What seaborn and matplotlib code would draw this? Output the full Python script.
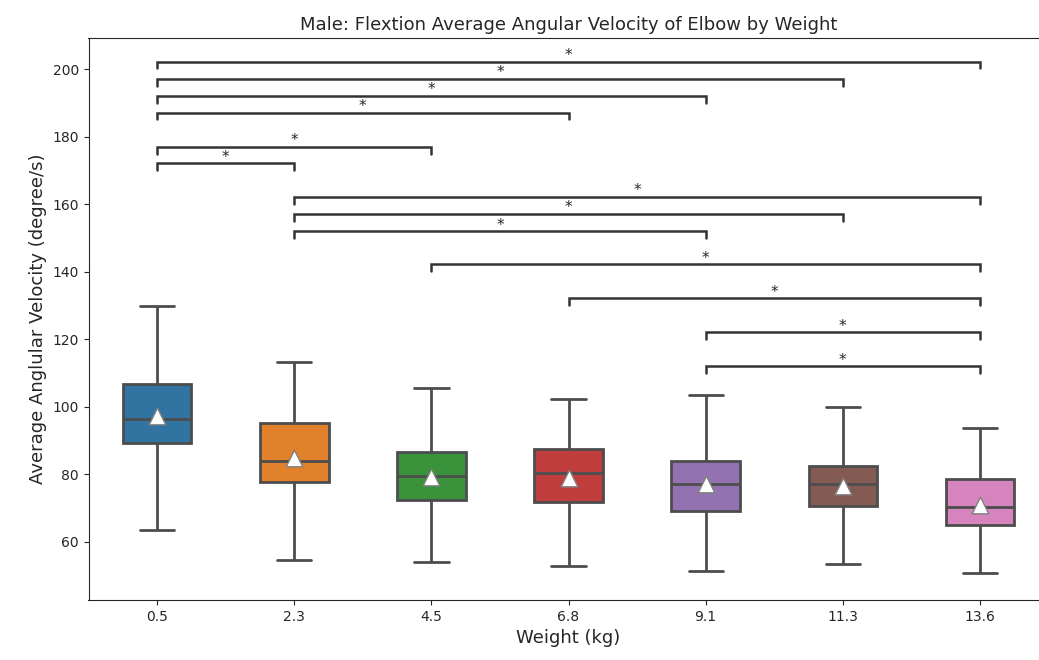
import matplotlib
matplotlib.use("Agg")
import matplotlib.pyplot as plt
import numpy as np
import pandas as pd
import seaborn as sns

# Weight categories (kg)
weights = ["0.5", "2.3", "4.5", "6.8", "9.1", "11.3", "13.6"]

# Box summaries per weight (degree/s)
whisker_low = [63.4, 54.7, 54.0, 53.0, 51.4, 53.6, 50.9]
q1 = [89.2, 77.6, 72.4, 71.7, 69.2, 70.6, 65.1]
median = [96.5, 84.1, 79.5, 80.5, 77.0, 77.0, 70.4]
q3 = [106.9, 95.2, 86.7, 87.6, 84.1, 82.4, 78.6]
whisker_high = [129.9, 113.2, 105.5, 102.4, 103.4, 99.9, 93.7]
means = [97.2, 84.9, 79.1, 79.0, 77.0, 76.5, 71.0]

# Significance brackets: left group, right group, height, label
pair_left = ["0.5", "0.5", "0.5", "0.5", "0.5", "0.5",
             "2.3", "2.3", "2.3", "4.5", "6.8", "9.1", "9.1"]
pair_right = ["13.6", "11.3", "9.1", "6.8", "4.5", "2.3",
              "13.6", "11.3", "9.1", "13.6", "13.6", "13.6", "13.6"]
bracket_y = [202.2, 197.1, 192.1, 187.1, 176.9, 172.1,
             162.1, 157.1, 152.0, 142.2, 132.1, 122.1, 112.0]
bracket_label = ["*"] * 13

# Long-form table: each group's five summary values reproduce its box
rows = []
for w, lo, a, m, b, hi in zip(weights, whisker_low, q1, median, q3, whisker_high):
    for v in (lo, a, m, b, hi):
        rows.append({"Weight (kg)": w, "velocity": v})
df = pd.DataFrame(rows)
mean_df = pd.DataFrame({"Weight (kg)": weights, "velocity": means})

sns.set_style("ticks")
plt.rcParams["font.family"] = ["DejaVu Sans"]

W, H, DPI = 1039, 660, 100
fig = plt.figure(figsize=(W / DPI, H / DPI), dpi=DPI)
ax = fig.add_axes([88.5 / W, 60 / H, 960 / W, 562 / H])

sns.boxplot(data=df, x="Weight (kg)", y="velocity", hue="Weight (kg)",
            order=weights, hue_order=weights, palette="tab10", legend=False,
            width=0.5, linecolor="0.3", linewidth=2, whis=1.5, ax=ax)

sns.stripplot(data=mean_df, x="Weight (kg)", y="velocity", order=weights,
              jitter=False, color="white", marker="^", size=12,
              edgecolor="0.5", linewidth=1, zorder=5, ax=ax)

# Bracket annotations over the boxes
pos = {w: i for i, w in enumerate(weights)}
tick = 2.0
for l, r, y, lab in zip(pair_left, pair_right, bracket_y, bracket_label):
    x1, x2 = pos[l], pos[r]
    ax.plot([x1, x1, x2, x2], [y - tick, y, y, y - tick],
            color="0.2", lw=1.8, solid_joinstyle="miter", clip_on=False)
    ax.text((x1 + x2) / 2, y - 0.4, lab, ha="center", va="bottom",
            fontsize=11, color="0.15")

ax.set_xlim(-0.5, 6.5)
ax.set_ylim(42.8, 209.2)
ax.set_yticks(np.arange(60, 201, 20))
ax.tick_params(labelsize=10)
ax.set_xlabel("Weight (kg)", fontsize=13)
ax.set_ylabel("Average Anglular Velocity (degree/s)", fontsize=13)
ax.set_title("Male: Flextion Average Angular Velocity of Elbow by Weight",
             fontsize=13)

fig.savefig("out.png", dpi=DPI)
